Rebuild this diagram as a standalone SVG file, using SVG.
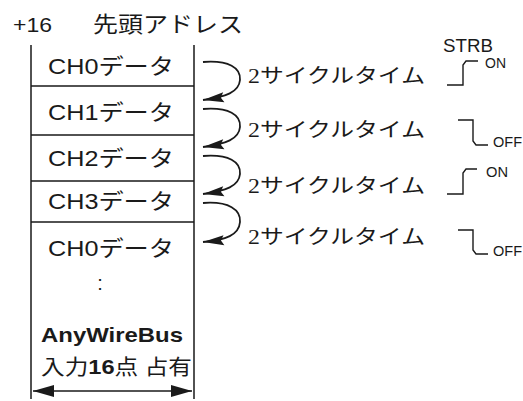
<svg xmlns="http://www.w3.org/2000/svg" width="523" height="401" viewBox="0 0 523 401">
<style>
.ln{stroke:#1a1a1a;stroke-width:1.5;fill:none}
.sans{font-family:"Liberation Sans","Noto Sans CJK JP",sans-serif;fill:#1a1a1a}
.ch{font-size:22px;text-anchor:middle}
.cyc{font-family:"Liberation Serif","Noto Sans CJK JP",serif;font-size:20px;fill:#1a1a1a}
.wv{stroke:#1a1a1a;stroke-width:1.4;fill:none}
.st{font-size:14px}
.arc{stroke:#1a1a1a;stroke-width:1.8;fill:none;marker-end:url(#ah)}
</style>
<defs>
<marker id="ah" markerUnits="userSpaceOnUse" markerWidth="24" markerHeight="14" viewBox="-22 -7 24 14" refX="0" refY="0" orient="auto">
<path d="M0,0 L-21,-5 L-18,0 L-21,5 z" fill="#1a1a1a"/>
</marker>
<marker id="ab" markerUnits="userSpaceOnUse" markerWidth="24" markerHeight="14" viewBox="-22 -7 24 14" refX="0" refY="0" orient="auto-start-reverse">
<path d="M0,0 L-21,-6 L-21,6 z" fill="#1a1a1a"/>
</marker>
</defs>
<g id="title">
<text class="sans" x="13" y="32" font-size="21" textLength="39" lengthAdjust="spacingAndGlyphs">+16</text>
<text class="sans" x="93" y="32" font-size="22" textLength="150" lengthAdjust="spacingAndGlyphs">先頭アドレス</text>
</g>
<g id="table">
<path class="ln" d="M31,45 V399 M194,45 V399 M31,86 H194 M31,135 H194 M31,181 H194 M31,222 H194"/>
</g>
<g id="ch0">
<text class="sans ch" x="111" y="74" textLength="126" lengthAdjust="spacingAndGlyphs">CH0データ</text>
</g>
<g id="ch1">
<text class="sans ch" x="111" y="120" textLength="126" lengthAdjust="spacingAndGlyphs">CH1データ</text>
</g>
<g id="ch2">
<text class="sans ch" x="111" y="166" textLength="126" lengthAdjust="spacingAndGlyphs">CH2データ</text>
</g>
<g id="ch3">
<text class="sans ch" x="111" y="209" textLength="126" lengthAdjust="spacingAndGlyphs">CH3データ</text>
</g>
<g id="ch0b">
<text class="sans ch" x="111" y="256" textLength="126" lengthAdjust="spacingAndGlyphs">CH0データ</text>
<text class="sans" x="100" y="290" font-size="20" text-anchor="middle">:</text>
</g>
<g id="footer">
<text class="sans" x="41" y="342" font-size="21" font-weight="bold" textLength="142" lengthAdjust="spacingAndGlyphs">AnyWireBus</text>
<text class="sans" x="41" y="374" font-size="21" textLength="151" lengthAdjust="spacingAndGlyphs">入力<tspan font-weight="bold">16</tspan>点 占有</text>
</g>
<g id="connectors">
<path class="arc" d="M203,62 C229,60 241,68 240,80 C239,92 226,97 203,100"/>
<path class="arc" d="M203,109 C229,107 241,115 240,127 C239,139 226,144 203,147"/>
<path class="arc" d="M203,156 C229,154 241,162 240,174 C239,186 226,191 203,194"/>
<path class="arc" d="M203,203 C229,201 241,210 240,222 C239,235 226,240 203,242"/>
<line class="ln" x1="33" y1="391" x2="192" y2="391" marker-start="url(#ab)" marker-end="url(#ab)"/>
</g>
<g id="cycles">
<text class="cyc" x="248" y="83" textLength="177" lengthAdjust="spacingAndGlyphs">2サイクルタイム</text>
<text class="cyc" x="248" y="137" textLength="177" lengthAdjust="spacingAndGlyphs">2サイクルタイム</text>
<text class="cyc" x="248" y="193" textLength="177" lengthAdjust="spacingAndGlyphs">2サイクルタイム</text>
<text class="cyc" x="248" y="244" textLength="177" lengthAdjust="spacingAndGlyphs">2サイクルタイム</text>
</g>
<g id="strb">
<text class="sans" x="443" y="52" font-size="19" textLength="50" lengthAdjust="spacingAndGlyphs">STRB</text>
<path class="wv" d="M447,85 H463 V65 L466,61 H478"/>
<text class="sans st" x="485" y="68" textLength="21" lengthAdjust="spacingAndGlyphs">ON</text>
<path class="wv" d="M458,120 H473 V141 L476,145 H488"/>
<text class="sans st" x="493" y="147" textLength="29" lengthAdjust="spacingAndGlyphs">OFF</text>
<path class="wv" d="M447,194 H463 V173 L466,169 H477"/>
<text class="sans st" x="486" y="177" textLength="22" lengthAdjust="spacingAndGlyphs">ON</text>
<path class="wv" d="M458,230 H473 V250 L476,254 H488"/>
<text class="sans st" x="493" y="256" textLength="29" lengthAdjust="spacingAndGlyphs">OFF</text>
</g>
</svg>
